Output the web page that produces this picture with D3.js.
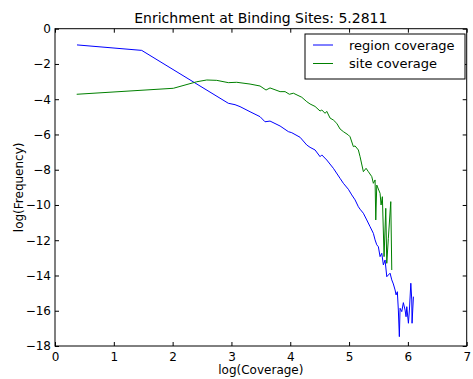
<!DOCTYPE html>
<html>
<head>
<meta charset="utf-8">
<script src="https://cdn.jsdelivr.net/npm/d3@7"></script>
<style>
  body { margin: 0; background: #fff; }
  svg { font-family: "DejaVu Sans", sans-serif; }
</style>
</head>
<body>
<svg id="chart" width="473" height="379"></svg>
<script>
// values
const regionX = [0.374, 1.474, 2.947, 3.061, 3.146, 3.316, 3.486, 3.571, 3.656, 3.827, 3.968, 4.026, 4.167, 4.281, 4.337, 4.422, 4.507, 4.536, 4.621, 4.733, 4.847, 4.903, 4.988, 5.046, 5.102, 5.158, 5.187, 5.243, 5.301, 5.357, 5.413, 5.442, 5.471, 5.498, 5.527, 5.556, 5.583, 5.612, 5.641, 5.668, 5.697, 5.726, 5.753, 5.782, 5.799, 5.821, 5.838, 5.855, 5.867, 5.896, 5.923, 5.952, 5.969, 5.981, 6.009, 6.026, 6.050, 6.066, 6.071, 6.094];
const regionY = [-0.92, -1.23, -4.23, -4.31, -4.42, -4.71, -4.99, -5.28, -5.24, -5.52, -5.84, -5.90, -6.16, -6.60, -6.73, -6.88, -7.26, -7.16, -7.45, -7.92, -8.49, -8.77, -9.11, -9.43, -9.71, -10.10, -10.24, -10.47, -10.85, -11.23, -11.61, -11.98, -12.26, -12.37, -12.93, -12.74, -13.40, -13.12, -14.07, -13.97, -13.87, -14.25, -14.48, -14.82, -15.10, -14.92, -15.96, -17.47, -15.86, -16.05, -15.54, -15.96, -16.34, -15.77, -16.71, -15.96, -14.44, -15.39, -16.71, -15.20];

const siteX = [0.369, 2.012, 2.410, 2.580, 2.750, 2.947, 3.090, 3.316, 3.486, 3.588, 3.656, 3.827, 3.912, 3.985, 4.053, 4.196, 4.281, 4.337, 4.422, 4.507, 4.536, 4.592, 4.621, 4.677, 4.733, 4.791, 4.847, 4.903, 4.988, 5.017, 5.073, 5.102, 5.158, 5.187, 5.243, 5.289, 5.328, 5.386, 5.413, 5.442, 5.454, 5.471, 5.527, 5.544, 5.566, 5.595, 5.624, 5.641, 5.668, 5.709, 5.726];
const siteY = [-3.72, -3.38, -3.01, -2.91, -2.93, -3.06, -3.04, -3.14, -3.25, -3.48, -3.36, -3.57, -3.57, -3.72, -3.66, -3.89, -4.14, -4.27, -4.41, -4.67, -4.61, -4.80, -4.69, -5.07, -5.18, -5.37, -5.69, -5.84, -6.03, -6.13, -6.69, -6.65, -6.88, -7.26, -8.11, -7.92, -8.11, -8.39, -8.77, -8.58, -10.85, -8.87, -9.34, -10.00, -9.53, -12.93, -10.19, -13.31, -11.89, -9.81, -13.69];

const seriesNames = ["region coverage", "site coverage"];
const seriesColors = ["#0000ff", "#008000"];
const xTicks = [0, 1, 2, 3, 4, 5, 6, 7];
const yTicks = [0, -2, -4, -6, -8, -10, -12, -14, -16, -18];

const margin = {top: 28.7, right: 6.3, bottom: 33, left: 55};
const width = 473, height = 379;
const svg = d3.select('#chart');

const x = d3.scaleLinear().domain([0, 7]).range([margin.left, width - margin.right]);
const y = d3.scaleLinear().domain([-18, 0]).range([height - margin.bottom, margin.top]);

const fmt = d => d < 0 ? '\u2212' + Math.abs(d) : String(d);

// axes: ticks point inward on all four sides
const axes = [
  d3.axisBottom(x).tickValues(xTicks).tickFormat(fmt).tickSizeInner(-4).tickSizeOuter(0).tickPadding(6),
  d3.axisTop(x).tickValues(xTicks).tickFormat('').tickSizeInner(-4).tickSizeOuter(0),
  d3.axisLeft(y).tickValues(yTicks).tickFormat(fmt).tickSizeInner(-4).tickSizeOuter(0).tickPadding(4),
  d3.axisRight(y).tickValues(yTicks).tickFormat('').tickSizeInner(-4).tickSizeOuter(0)
];
const shifts = [
  `translate(0,${y(-18)})`, `translate(0,${y(0)})`,
  `translate(${x(0)},0)`, `translate(${x(7)},0)`
];
axes.forEach((ax, i) => {
  const g = svg.append('g').attr('transform', shifts[i]).call(ax);
  g.select('.domain').remove();
  g.selectAll('text').attr('font-size', 12).attr('fill', '#000').attr('font-family', '"DejaVu Sans", sans-serif');
  g.selectAll('line').attr('stroke', '#000');
});

const line = d3.line().x(d => x(d[0])).y(d => y(d[1]));
const series = [d3.zip(regionX, regionY), d3.zip(siteX, siteY)];
series.forEach((s, i) => {
  svg.append('path').datum(s)
    .attr('d', line)
    .attr('fill', 'none')
    .attr('stroke', seriesColors[i])
    .attr('stroke-width', 1)
    .attr('stroke-linejoin', 'round');
});

// frame
svg.append('rect')
  .attr('x', x(0)).attr('y', y(0))
  .attr('width', x(7) - x(0)).attr('height', y(-18) - y(0))
  .attr('fill', 'none').attr('stroke', '#000').attr('stroke-width', 1);

// title and labels
svg.append('text').attr('x', (x(0) + x(7)) / 2).attr('y', 23)
  .attr('text-anchor', 'middle').attr('font-size', 14)
  .text('Enrichment at Binding Sites: 5.2811');
svg.append('text').attr('x', (x(0) + x(7)) / 2).attr('y', 374)
  .attr('text-anchor', 'middle').attr('font-size', 12)
  .text('log(Coverage)');
svg.append('text')
  .attr('transform', `translate(23,${(y(0) + y(-18)) / 2}) rotate(-90)`)
  .attr('text-anchor', 'middle').attr('font-size', 12)
  .text('log(Frequency)');

// legend
const legend = svg.append('g');
legend.append('rect')
  .attr('x', 305).attr('y', 34).attr('width', 160).attr('height', 45)
  .attr('fill', '#fff').attr('stroke', '#000').attr('stroke-width', 1);
seriesNames.forEach((name, i) => {
  const ly = 45 + i * 18.5;
  legend.append('line')
    .attr('x1', 313).attr('x2', 333).attr('y1', ly).attr('y2', ly)
    .attr('stroke', seriesColors[i]).attr('stroke-width', 1);
  legend.append('text')
    .attr('x', 349).attr('y', ly + 4.5).attr('font-size', 13)
    .text(name);
});
</script>
</body>
</html>
